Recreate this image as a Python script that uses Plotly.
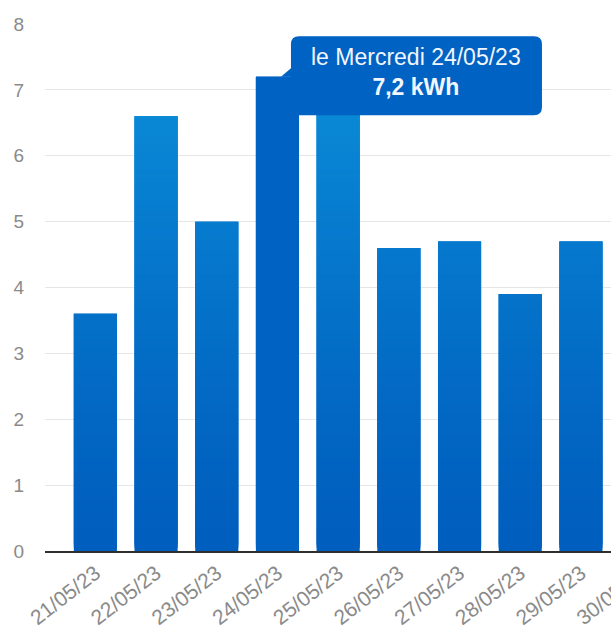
import plotly.graph_objects as go
from datetime import datetime

# Daily consumption (kWh)
dates = ["21/05/23", "22/05/23", "23/05/23", "24/05/23", "25/05/23",
         "26/05/23", "27/05/23", "28/05/23", "29/05/23", "30/05/23"]
energy_kwh = [3.6, 6.6, 5.0, 7.2, 6.9, 4.6, 4.7, 3.9, 4.7, 4.2]
y_ticks = [0, 1, 2, 3, 4, 5, 6, 7, 8]
selected_date = "24/05/23"

FR_DAYS = ["Lundi", "Mardi", "Mercredi", "Jeudi", "Vendredi", "Samedi", "Dimanche"]

BOTTOM = (0, 94, 190)
TOP = (12, 148, 220)
HIGHLIGHT = "#0062c2"
Y_MAX = y_ticks[-1]


def shade(h):
    t = max(0.0, min(1.0, h / Y_MAX)) ** 1.3
    r, g, b = (round(a + (c - a) * t) for a, c in zip(BOTTOM, TOP))
    return f"rgb({r},{g},{b})"


# Each bar is built from thin stacked slices (each overlapping the next one
# slightly) so the fill fades smoothly from dark blue to lighter blue.
STEP = 0.05
seg_x, seg_base, seg_len, seg_color = [], [], [], []
for d, v in zip(dates, energy_kwh):
    h = 0.0
    while h < v - 1e-9:
        top = min(h + STEP, v)
        seg_x.append(d)
        seg_base.append(h)
        seg_len.append(min(h + 3 * STEP, v) - h)
        seg_color.append(HIGHLIGHT if d == selected_date else shade((h + top) / 2))
        h = top

fig = go.Figure(go.Bar(
    x=seg_x, y=seg_len, base=seg_base,
    marker=dict(color=seg_color, line=dict(width=0)),
    hoverinfo="skip",
))

# Tooltip for the selected day
sel_idx = dates.index(selected_date)
sel_val = energy_kwh[sel_idx]
day_name = FR_DAYS[datetime.strptime(selected_date, "%d/%m/%y").weekday()]
value_txt = f"{sel_val:.1f}".replace(".", ",") + " kWh"

tip_path = ("M 21.5,40.5 L 256.5,40.5 Q 264.5,40.5 264.5,32.5 "
            "L 264.5,-30.5 Q 264.5,-38.5 256.5,-38.5 L 13.5,-38.5 "
            "L 13.5,0 L 3.5,0 L 13.5,8.5 L 13.5,32.5 Q 13.5,40.5 21.5,40.5 Z")
fig.add_shape(
    type="path", path=tip_path,
    xref="x", yref="y", xsizemode="pixel", ysizemode="pixel",
    xanchor=selected_date, yanchor=sel_val,
    fillcolor=HIGHLIGHT, line=dict(width=0), layer="above",
)
fig.add_annotation(
    x=selected_date, y=sel_val, xref="x", yref="y",
    xshift=139, yshift=5, xanchor="center", yanchor="middle",
    showarrow=False, align="center",
    text=f"le {day_name} {selected_date}<br><b>{value_txt}</b>",
    font=dict(family="Liberation Sans, Arial, sans-serif", size=23, color="#f2f6ff"),
)

n = len(dates)
fig.update_layout(
    width=692, height=632,
    margin=dict(l=45, r=0, t=24, b=81),
    paper_bgcolor="white", plot_bgcolor="white",
    showlegend=False,
    bargap=0.29,
    font=dict(family="Liberation Sans, Arial, sans-serif", color="#8a8a8a"),
    xaxis=dict(
        type="category", categoryorder="array", categoryarray=dates,
        range=[-0.83, n - 1 + 0.83],
        tickangle=-38, tickfont=dict(size=21, color="#8a8a8a"),
        showgrid=False, showline=True, linecolor="#2e2e2e", linewidth=1.5,
        ticks="", fixedrange=True,
    ),
    yaxis=dict(
        range=[0, Y_MAX], tickvals=y_ticks,
        tickfont=dict(size=19, color="#8a8a8a"),
        showgrid=True, gridcolor="#e6e6e6", gridwidth=1,
        zeroline=False, showline=False, ticks="",
        ticklabelstandoff=20, fixedrange=True,
    ),
)

fig.write_html(
    "out.html",
    config={"displayModeBar": False},
    post_script="document.body.style.margin='0';"
                "document.body.style.overflow='hidden';"
                "document.documentElement.style.overflow='hidden';",
)
